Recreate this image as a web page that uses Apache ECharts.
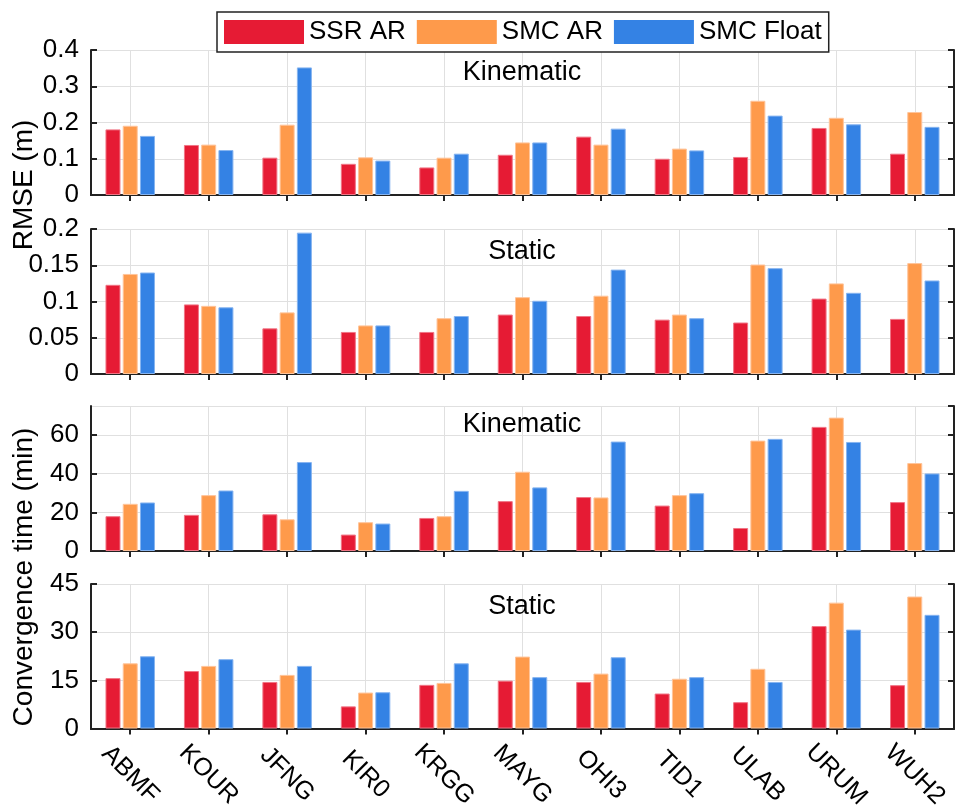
<!DOCTYPE html>
<html>
<head>
<meta charset="utf-8">
<script src="https://cdn.jsdelivr.net/npm/echarts@6/dist/echarts.min.js"></script>
<style>
    html, body { margin: 0; padding: 0; background: #fff; }
    #chart { width: 965px; height: 812px; }
</style>
</head>
<body>
<div id="chart"></div>
<script>
const stations = ['ABMF', 'KOUR', 'JFNG', 'KIR0', 'KRGG', 'MAYG', 'OHI3', 'TID1', 'ULAB', 'URUM', 'WUH2'];
const seriesNames = ['SSR AR', 'SMC AR', 'SMC Float'];

// RMSE (m), kinematic
const kinRmseSsr = [0.181, 0.138, 0.103, 0.086, 0.076, 0.111, 0.161, 0.100, 0.105, 0.185, 0.114];
const kinRmseAr = [0.191, 0.139, 0.194, 0.104, 0.103, 0.145, 0.139, 0.128, 0.260, 0.213, 0.229];
const kinRmseFloat = [0.163, 0.124, 0.352, 0.095, 0.114, 0.145, 0.183, 0.123, 0.219, 0.195, 0.188];

// RMSE (m), static
const staRmseSsr = [0.123, 0.096, 0.063, 0.058, 0.058, 0.082, 0.080, 0.075, 0.071, 0.104, 0.076];
const staRmseAr = [0.138, 0.094, 0.085, 0.067, 0.077, 0.106, 0.108, 0.082, 0.151, 0.125, 0.153];
const staRmseFloat = [0.140, 0.092, 0.195, 0.067, 0.080, 0.101, 0.144, 0.077, 0.146, 0.112, 0.129];

// convergence time (min), kinematic
const kinConvSsr = [18.0, 18.7, 19.0, 8.5, 17.1, 25.8, 27.9, 23.5, 11.9, 64.2, 25.3];
const kinConvAr = [24.4, 28.9, 16.4, 14.9, 18.0, 41.0, 27.7, 28.9, 57.1, 69.0, 45.5];
const kinConvFloat = [25.1, 31.3, 46.0, 14.2, 31.1, 32.9, 56.6, 29.9, 58.0, 56.4, 40.1];

// convergence time (min), static
const staConvSsr = [15.7, 17.9, 14.5, 6.9, 13.6, 14.9, 14.5, 10.9, 8.2, 31.9, 13.5];
const staConvAr = [20.3, 19.5, 16.7, 11.2, 14.2, 22.4, 17.1, 15.5, 18.6, 39.2, 41.1];
const staConvFloat = [22.5, 21.6, 19.5, 11.3, 20.3, 16.0, 22.2, 16.0, 14.5, 30.8, 35.4];

// panel title, y range per panel
const panelTitles = ['Kinematic', 'Static', 'Kinematic', 'Static'];
const panelMax = [0.4, 0.2, 75, 45];
const panelInterval = [0.1, 0.05, 20, 15];

const colors = ['#E61B34', '#FE9A4B', '#3482E4'];
const borderColors = ['#F07585', '#FFC49A', '#86B4F0'];

const FONT = '"Liberation Sans", Arial, Helvetica, sans-serif';
const AXIS_COLOR = '#222';

document.addEventListener("DOMContentLoaded", function () {
    const panelData = [
        [kinRmseSsr, kinRmseAr, kinRmseFloat],
        [staRmseSsr, staRmseAr, staRmseFloat],
        [kinConvSsr, kinConvAr, kinConvFloat],
        [staConvSsr, staConvAr, staConvFloat],
    ];
    const gridTops = [50, 229, 406, 584];
    const gridHeights = [145, 145, 145, 146];
    const titleY = [73, 252, 425, 607];

    let grids = [], xAxes = [], yAxes = [], series = [], graphics = [];

    for (let p = 0; p < 4; p++) {
        grids.push({ left: 91, right: 11, top: gridTops[p], height: gridHeights[p] });

        // bottom axis (labels only on last panel)
        xAxes.push({
            type: 'category', gridIndex: p, data: stations, position: 'bottom',
            axisLine: { show: true, lineStyle: { color: AXIS_COLOR, width: 2 } },
            axisTick: { show: true, inside: true, alignWithLabel: true, length: 6, lineStyle: { color: AXIS_COLOR, width: 2 } },
            splitLine: { show: true, alignWithLabel: true, lineStyle: { color: '#e0e0e0', width: 1 } },
            axisLabel: p == 3 ? {
                show: true, interval: 0, rotate: -45, align: 'center', verticalAlign: 'middle',
                margin: 46, fontSize: 25, color: '#000', fontFamily: FONT,
            } : { show: false },
        });
        // top axis, for the box and ticks
        xAxes.push({
            type: 'category', gridIndex: p, data: stations, position: 'top',
            axisLine: { show: true, lineStyle: { color: AXIS_COLOR, width: 2 } },
            axisTick: { show: true, inside: true, alignWithLabel: true, length: 6, lineStyle: { color: AXIS_COLOR, width: 2 } },
            axisLabel: { show: false },
            splitLine: { show: false },
        });

        yAxes.push({
            type: 'value', gridIndex: p, position: 'left',
            min: 0, max: panelMax[p], interval: panelInterval[p],
            axisLine: { show: true, lineStyle: { color: AXIS_COLOR, width: 2 } },
            axisTick: { show: true, inside: true, length: 6, lineStyle: { color: AXIS_COLOR, width: 2 } },
            splitLine: { show: true, lineStyle: { color: '#e0e0e0', width: 1 } },
            axisLabel: { show: true, fontSize: 26, color: '#000', fontFamily: FONT, margin: 12, showMaxLabel: p != 2 },
        });
        yAxes.push({
            type: 'value', gridIndex: p, position: 'right',
            min: 0, max: panelMax[p], interval: panelInterval[p],
            axisLine: { show: true, lineStyle: { color: AXIS_COLOR, width: 2 } },
            axisTick: { show: true, inside: true, length: 6, lineStyle: { color: AXIS_COLOR, width: 2 } },
            splitLine: { show: false },
            axisLabel: { show: false },
        });

        for (let s = 0; s < 3; s++) {
            series.push({
                type: 'bar', name: seriesNames[s],
                xAxisIndex: p * 2, yAxisIndex: p * 2,
                data: panelData[p][s],
                barWidth: 15, barGap: '15%',
                itemStyle: { color: colors[s], borderColor: borderColors[s], borderWidth: 1 },
                emphasis: { disabled: true },
            });
        }

        graphics.push({
            type: 'text', x: 522, y: titleY[p], z: 10,
            style: { text: panelTitles[p], font: '27px ' + FONT, fill: '#000', textAlign: 'center', textVerticalAlign: 'middle' },
        });
    }

    // y axis names, spanning two panels each
    graphics.push({
        type: 'text', x: 24, y: 185, rotation: Math.PI / 2, z: 10,
        style: { text: 'RMSE (m)', font: '28px ' + FONT, fill: '#000', textAlign: 'center', textVerticalAlign: 'middle' },
    });
    graphics.push({
        type: 'text', x: 24, y: 577, rotation: Math.PI / 2, z: 10,
        style: { text: 'Convergence time (min)', font: '28px ' + FONT, fill: '#000', textAlign: 'center', textVerticalAlign: 'middle' },
    });

    let chart = echarts.init(document.getElementById('chart'), null, { renderer: 'canvas' });
    let option = {
        animation: false,
        backgroundColor: '#fff',
        color: colors,
        legend: {
            data: seriesNames,
            icon: 'rect',
            left: 217, top: 12,
            padding: [7, 7],
            itemWidth: 80, itemHeight: 24, itemGap: 11,
            itemStyle: { borderWidth: 0 },
            backgroundColor: '#fff',
            borderColor: '#222', borderWidth: 1.5, borderRadius: 0,
            textStyle: { fontSize: 26, color: '#000', fontFamily: FONT },
            z: 20,
        },
        grid: grids,
        xAxis: xAxes,
        yAxis: yAxes,
        series: series,
        graphic: graphics,
    };
    chart.setOption(option);
});
</script>
</body>
</html>
